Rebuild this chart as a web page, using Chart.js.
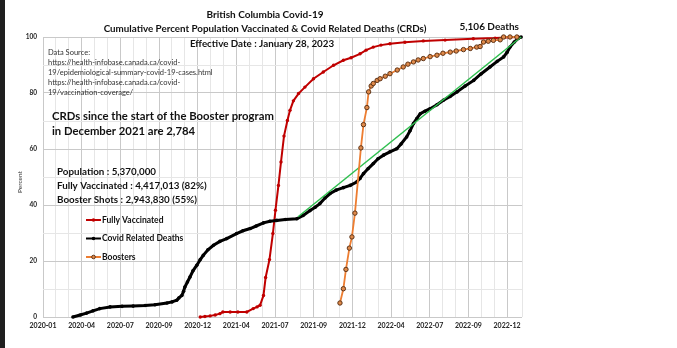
<!DOCTYPE html>
<html>
<head>
<meta charset="utf-8">
<script src="https://cdn.jsdelivr.net/npm/chart.js@4"></script>
<style>
  html, body { margin: 0; padding: 0; background: #fff; }
  canvas { display: block; }
</style>
</head>
<body>
<canvas id="chart" width="677" height="348"></canvas>
<script>
// x values are days counted from the 2020-01 tick
const TICK_LABELS = ['2020-01', '2020-04', '2020-07', '2020-09', '2020-12', '2021-04', '2021-07',
                     '2021-09', '2021-12', '2022-04', '2022-07', '2022-09', '2022-12'];
const TICK_STEP = 90.5;
const X_MAX = 1121;

const DEATH_DAYS = [70, 87, 102, 117, 133, 157, 185, 211, 239, 262, 290, 302, 313, 318, 325, 329, 332, 338,
                    344, 351, 360, 368, 375, 386, 399, 414, 430, 453, 468, 485, 499, 516, 531, 547, 567, 594,
                    609, 625, 637, 648, 660, 672, 686, 703, 719, 734, 742, 750, 761, 773, 784, 797, 812, 828,
                    838, 851, 859, 867, 875, 883, 894, 906, 922, 937, 953, 969, 988, 1008, 1025, 1046, 1063,
                    1078, 1086, 1093, 1103, 1112, 1119];
const DEATH_PCT  = [0, 0.7, 1.4, 2.2, 3.0, 3.6, 3.8, 3.9, 4.1, 4.4, 5.0, 5.4, 6.0, 6.8, 7.7, 9.2, 10.7, 12.5,
                    14.3, 16.5, 18.5, 20.5, 22, 24, 25.6, 27, 28, 29.8, 30.8, 31.6, 32.5, 33.6, 34.2, 34.5, 34.8, 35.1,
                    36.3, 38, 39.2, 40.5, 42.5, 44.1, 45.3, 46.2, 47, 48.2, 49.5, 51.2, 53, 54.8, 56.5, 57.8, 59, 60.1,
                    61.8, 64.3, 66.5, 69.1, 70.9, 72.6, 73.5, 74.4, 75.8, 77.4, 78.8, 80.4, 82.5, 84.5, 86.8, 89.3, 91.3,
                    92.9, 94.5, 96.4, 98.2, 99.5, 100];

const VAX_DAYS = [368, 379, 391, 403, 414, 421, 438, 456, 477, 492, 501, 508, 516, 521, 530, 538, 544, 551, 557,
                  564, 572, 578, 586, 598, 613, 633, 656, 680, 703, 721, 742, 756, 773, 791, 812, 847, 890, 941,
                  1007, 1058, 1112];
const VAX_PCT  = [0, 0.2, 0.4, 0.7, 1.2, 1.8, 1.8, 1.8, 1.8, 3.0, 3.6, 4.2, 7.7, 14.1, 20.5, 29.8, 38.1, 47, 55.4,
                  64.6, 70.2, 73.8, 77.2, 79.8, 82.1, 85.1, 87.5, 89.9, 91.7, 92.6, 94, 95.3, 96.4, 97.1, 97.6, 98.1,
                  98.6, 98.9, 99.4, 99.6, 100];

const BOOST_DAYS = [695, 703, 709, 717, 723, 730, 744, 750, 758, 762, 768, 773, 782, 789, 801, 812, 829, 843, 854,
                    867, 878, 890, 906, 922, 936, 953, 967, 984, 1000, 1015, 1023, 1031, 1042, 1054, 1070, 1078,
                    1093, 1109];
const BOOST_PCT  = [5.0, 10.1, 17, 24.6, 28.6, 37.1, 60.4, 68.7, 74.8, 80.4, 82.5, 83.4, 84.5, 85.1, 86, 86.9, 88.2,
                    89.3, 90.3, 91.1, 91.8, 92.3, 93, 93.5, 94.2, 94.6, 95, 95.5, 95.9, 96.4, 96.6, 98.2, 98.5, 98.8,
                    99, 100, 100, 100];

const TREND_DAYS = [597, 1119];
const TREND_PCT  = [35.8, 100];

const SOURCE_LINES = ['Data Source:',
  'https://health-infobase.canada.ca/covid-',
  '19/epidemiological-summary-covid-19-cases.html',
  'https://health-infobase.canada.ca/covid-',
  '19/vaccination-coverage/'];
const CRD_LINES = ['CRDs since the start of the Booster program', 'in December 2021 are 2,784'];
const POP_LINES = ['Population : 5,370,000', 'Fully Vaccinated : 4,417,013 (82%)', 'Booster Shots : 2,943,830 (55%)'];

const FONT = 'Lato, "Open Sans", sans-serif';

const toXY = (xs, ys) => xs.map((x, i) => ({ x, y: ys[i] }));

// ─── titles, notes, legend drawn straight onto the canvas ───
const notesPlugin = {
  id: 'notes',
  beforeDraw(chart) {
    const ctx = chart.ctx;
    ctx.save();
    ctx.fillStyle = '#fff';
    ctx.fillRect(0, 0, chart.width, chart.height);
    ctx.fillStyle = '#1f1f1f';
    ctx.fillRect(0, 0, 5, chart.height);
    ctx.restore();
  },
  afterDraw(chart) {
    const ctx = chart.ctx;
    ctx.save();
    ctx.textBaseline = 'middle';
    ctx.fillStyle = '#111';

    ctx.textAlign = 'center';
    ctx.font = `bold 10px ${FONT}`;
    ctx.fillText('British Columbia Covid-19', 265, 15);
    ctx.font = `bold 9.8px ${FONT}`;
    ctx.fillText('Cumulative Percent Population Vaccinated & Covid Related Deaths (CRDs)', 265, 29);
    ctx.font = `bold 9.8px ${FONT}`;
    ctx.fillText('Effective Date : January 28, 2023', 262, 44);
    ctx.textAlign = 'right';
    ctx.font = `bold 10px ${FONT}`;
    ctx.fillText('5,106 Deaths', 519, 27);

    ctx.textAlign = 'left';
    ctx.fillStyle = '#333';
    ctx.font = `7.5px ${FONT}`;
    SOURCE_LINES.forEach((t, i) => ctx.fillText(t, 48, 53 + i * 10));

    ctx.fillStyle = '#111';
    ctx.font = `bold 11.3px ${FONT}`;
    CRD_LINES.forEach((t, i) => ctx.fillText(t, 52, 116 + i * 15));

    ctx.font = `bold 9.8px ${FONT}`;
    POP_LINES.forEach((t, i) => ctx.fillText(t, 57, 172 + i * 14));

    // legend
    const items = [0, 1, 3].map(i => chart.data.datasets[i]);
    ctx.font = `bold 8.5px ${FONT}`;
    items.forEach((ds, i) => {
      const y = 220 + i * 18.5;
      ctx.strokeStyle = ds.borderColor;
      ctx.lineWidth = 2;
      ctx.beginPath(); ctx.moveTo(86, y); ctx.lineTo(101, y); ctx.stroke();
      ctx.beginPath(); ctx.arc(93.5, y, 1.8, 0, Math.PI * 2);
      ctx.fillStyle = ds.pointBackgroundColor;
      ctx.fill();
      if (ds.pointBorderWidth) { ctx.strokeStyle = ds.pointBorderColor; ctx.lineWidth = 1; ctx.stroke(); }
      ctx.fillStyle = '#111';
      ctx.fillText(ds.label, 102, y);
    });

    ctx.translate(20, 182);
    ctx.rotate(-Math.PI / 2);
    ctx.textAlign = 'center';
    ctx.font = `6.5px ${FONT}`;
    ctx.fillStyle = '#333';
    ctx.fillText('Percent', 0, 0);
    ctx.restore();
  }
};

new Chart(document.getElementById('chart').getContext('2d'), {
  type: 'scatter',
  data: {
    datasets: [
      {
        label: 'Fully Vaccinated',
        data: toXY(VAX_DAYS, VAX_PCT),
        showLine: true,
        borderColor: '#c00000',
        borderWidth: 2,
        pointRadius: 1.7,
        pointBackgroundColor: '#c00000',
        pointBorderWidth: 0,
        order: 3
      },
      {
        label: 'Covid Related Deaths',
        data: toXY(DEATH_DAYS, DEATH_PCT),
        showLine: true,
        borderColor: '#000',
        borderWidth: 3,
        pointRadius: 1.8,
        pointBackgroundColor: '#000',
        pointBorderWidth: 0,
        order: 2
      },
      {
        label: 'Trend',
        data: toXY(TREND_DAYS, TREND_PCT),
        showLine: true,
        borderColor: '#2fbf4f',
        borderWidth: 1.5,
        pointRadius: 0,
        order: 1
      },
      {
        label: 'Boosters',
        data: toXY(BOOST_DAYS, BOOST_PCT),
        showLine: true,
        borderColor: '#ed7d31',
        borderWidth: 1.8,
        pointRadius: 2.2,
        pointBackgroundColor: '#e08a4a',
        pointBorderColor: '#5e3418',
        pointBorderWidth: 1,
        order: 0
      }
    ]
  },
  options: {
    responsive: false,
    animation: false,
    devicePixelRatio: 1,
    clip: 4,
    layout: { padding: { left: 0, right: 155, top: 37, bottom: 11 } },
    elements: { line: { tension: 0 } },
    plugins: { legend: { display: false }, tooltip: { enabled: false } },
    scales: {
      x: {
        type: 'linear',
        min: 0,
        max: X_MAX,
        afterBuildTicks: axis => {
          const t = [];
          for (let i = 0; i <= 36; i++) t.push({ value: i * TICK_STEP / 3, major: i % 3 === 0 });
          t.push({ value: X_MAX });
          axis.ticks = t;
        },
        afterFit: axis => { axis.height = 20; },
        border: { display: false },
        grid: {
          drawTicks: false,
          color: c => (c.tick && c.tick.major ? '#c9c9c9' : '#e6e6e6')
        },
        ticks: {
          autoSkip: false,
          maxRotation: 0,
          padding: 5,
          color: '#222',
          font: { family: FONT, size: 7, weight: 'bold' },
          callback: (v, i) => (i % 3 === 0 && i <= 36 ? TICK_LABELS[i / 3] : '')
        }
      },
      y: {
        min: 0,
        max: 100,
        afterFit: axis => { axis.width = 43; },
        border: { display: false },
        grid: {
          drawTicks: false,
          color: c => (c.tick && c.tick.value % 20 === 0 ? '#c9c9c9' : '#e6e6e6')
        },
        ticks: {
          stepSize: 10,
          padding: 6,
          color: '#222',
          font: { family: FONT, size: 6.5, weight: 'bold' },
          callback: v => (v % 20 === 0 ? v : '')
        }
      }
    }
  },
  plugins: [notesPlugin]
});
</script>
</body>
</html>
